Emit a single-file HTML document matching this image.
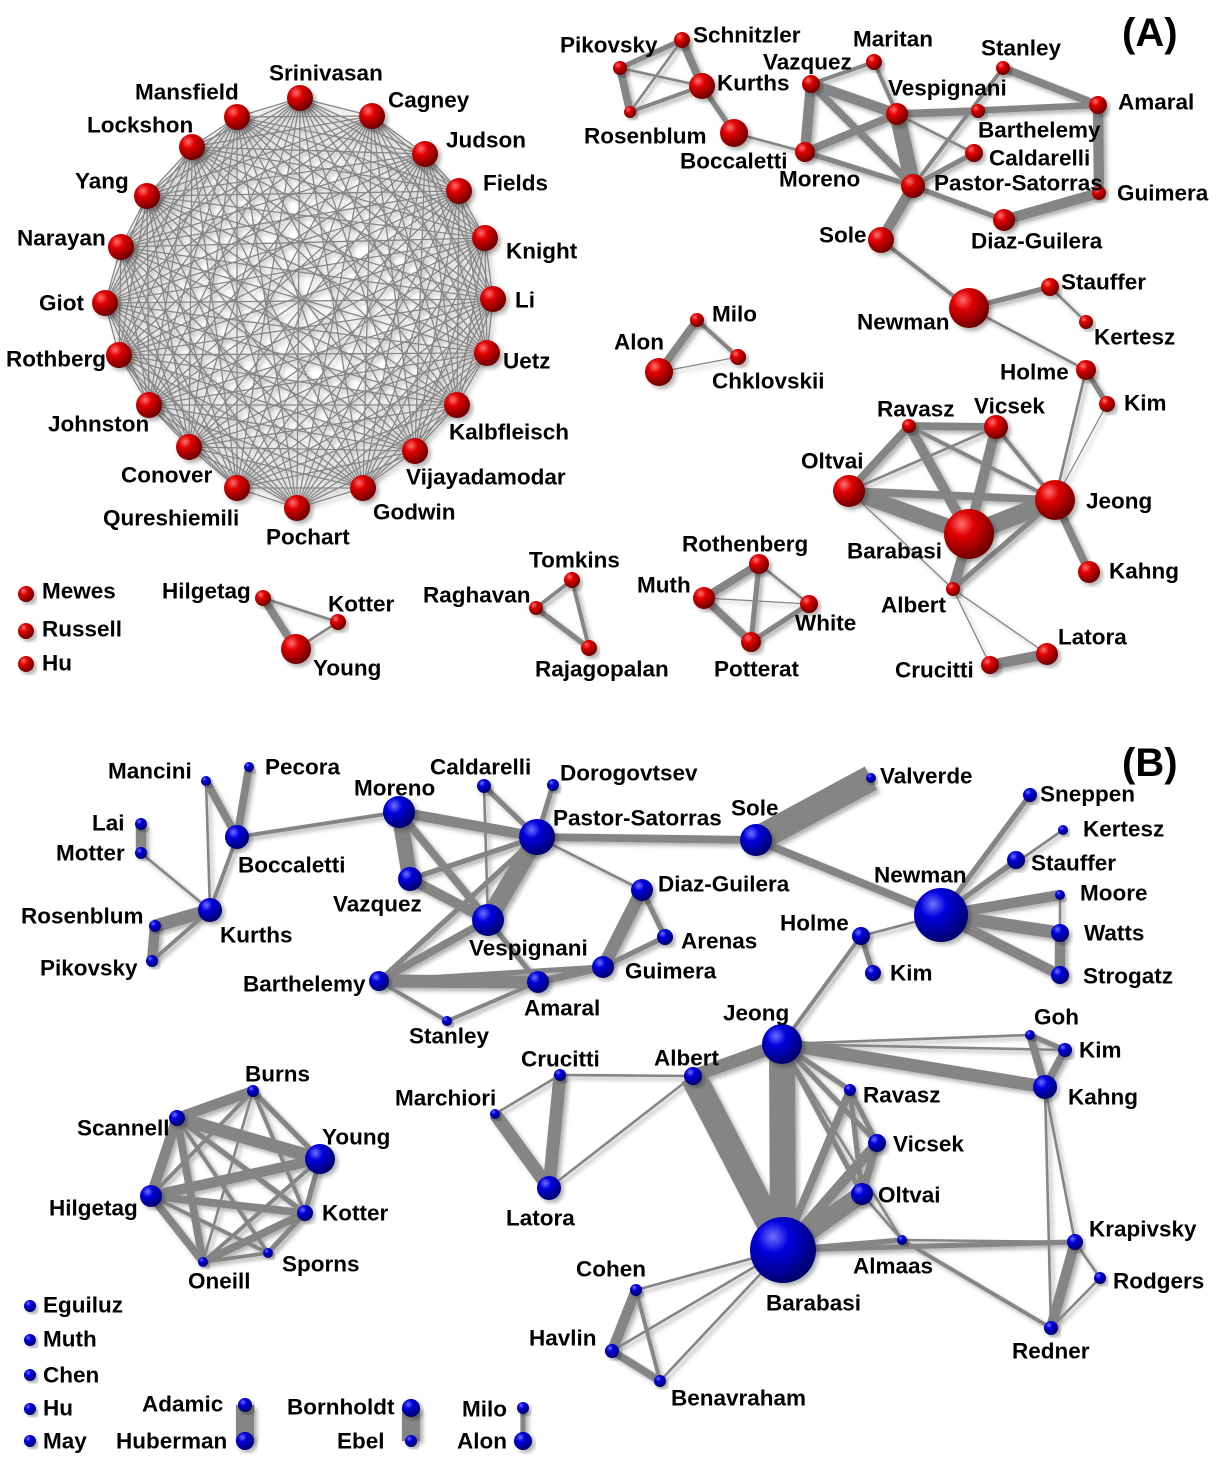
<!DOCTYPE html>
<html><head><meta charset="utf-8">
<style>
html,body{margin:0;padding:0;background:#fff;}
svg text{font-family:"Liberation Sans",Arial,sans-serif;font-weight:bold;font-size:22.5px;fill:#000;dominant-baseline:central;}
</style></head>
<body>
<svg id="s" width="1222" height="1469" viewBox="0 0 1222 1469" xmlns="http://www.w3.org/2000/svg">
<defs>
<radialGradient id="gr" cx="35%" cy="30%" r="70%">
<stop offset="0" stop-color="#ff7070"/><stop offset="0.35" stop-color="#e00000"/><stop offset="1" stop-color="#700000"/>
</radialGradient>
<radialGradient id="gb" cx="35%" cy="30%" r="70%">
<stop offset="0" stop-color="#7070ff"/><stop offset="0.35" stop-color="#0000dd"/><stop offset="1" stop-color="#000070"/>
</radialGradient>
<filter id="sh" x="-20%" y="-20%" width="140%" height="140%"><feDropShadow dx="3" dy="3" stdDeviation="2" flood-color="#000" flood-opacity="0.3"/></filter>
</defs>
<g id="edges" filter="url(#sh)"></g>
<g id="nodes"></g>
<g id="labels">
<text x="1122" y="33" style="font-size:40px">(A)</text>
<text x="1122" y="763" style="font-size:40px">(B)</text>
<text x="269" y="73">Srinivasan</text><text x="388" y="100">Cagney</text><text x="446" y="140">Judson</text>
<text x="483" y="183">Fields</text><text x="506" y="251">Knight</text><text x="515" y="300">Li</text>
<text x="503" y="361">Uetz</text><text x="449" y="432">Kalbfleisch</text><text x="406" y="477">Vijayadamodar</text>
<text x="373" y="512">Godwin</text><text x="266" y="537">Pochart</text><text x="103" y="518">Qureshiemili</text>
<text x="121" y="475">Conover</text><text x="48" y="424">Johnston</text><text x="6" y="359">Rothberg</text>
<text x="39" y="303">Giot</text><text x="17" y="238">Narayan</text><text x="75" y="181">Yang</text>
<text x="87" y="125">Lockshon</text><text x="135" y="92">Mansfield</text>
<text x="560" y="45">Pikovsky</text><text x="693" y="35">Schnitzler</text><text x="717" y="83">Kurths</text>
<text x="584" y="136">Rosenblum</text><text x="680" y="161">Boccaletti</text>
<text x="763" y="62">Vazquez</text><text x="853" y="39">Maritan</text><text x="888" y="88">Vespignani</text>
<text x="779" y="179">Moreno</text><text x="934" y="183">Pastor-Satorras</text><text x="981" y="48">Stanley</text>
<text x="1118" y="102">Amaral</text><text x="978" y="130">Barthelemy</text><text x="989" y="158">Caldarelli</text>
<text x="1117" y="193">Guimera</text><text x="971" y="241">Diaz-Guilera</text><text x="819" y="235">Sole</text>
<text x="857" y="322">Newman</text><text x="1061" y="282">Stauffer</text><text x="1094" y="337">Kertesz</text>
<text x="1000" y="372">Holme</text><text x="1124" y="403">Kim</text><text x="877" y="409">Ravasz</text>
<text x="974" y="406">Vicsek</text><text x="801" y="461">Oltvai</text><text x="1086" y="501">Jeong</text>
<text x="847" y="551">Barabasi</text><text x="1109" y="571">Kahng</text><text x="881" y="605">Albert</text>
<text x="895" y="670">Crucitti</text><text x="1058" y="637">Latora</text>
<text x="614" y="342">Alon</text><text x="712" y="314">Milo</text><text x="712" y="381">Chklovskii</text>
<text x="42" y="591">Mewes</text><text x="42" y="629">Russell</text><text x="42" y="663">Hu</text>
<text x="162" y="591">Hilgetag</text><text x="328" y="604">Kotter</text><text x="313" y="668">Young</text>
<text x="529" y="560">Tomkins</text><text x="423" y="595">Raghavan</text><text x="535" y="669">Rajagopalan</text>
<text x="682" y="544">Rothenberg</text><text x="637" y="585">Muth</text><text x="795" y="623">White</text><text x="714" y="669">Potterat</text>
<text x="108" y="771">Mancini</text><text x="265" y="767">Pecora</text><text x="92" y="823">Lai</text>
<text x="56" y="853">Motter</text><text x="238" y="865">Boccaletti</text><text x="220" y="935">Kurths</text>
<text x="21" y="916">Rosenblum</text><text x="40" y="968">Pikovsky</text>
<text x="354" y="788">Moreno</text><text x="430" y="767">Caldarelli</text><text x="560" y="773">Dorogovtsev</text>
<text x="553" y="818">Pastor-Satorras</text><text x="731" y="808">Sole</text><text x="880" y="776">Valverde</text>
<text x="333" y="904">Vazquez</text><text x="469" y="948">Vespignani</text><text x="658" y="884">Diaz-Guilera</text>
<text x="681" y="941">Arenas</text><text x="625" y="971">Guimera</text><text x="524" y="1008">Amaral</text>
<text x="243" y="984">Barthelemy</text><text x="409" y="1036">Stanley</text>
<text x="1040" y="794">Sneppen</text><text x="1083" y="829">Kertesz</text><text x="1031" y="863">Stauffer</text>
<text x="874" y="875">Newman</text><text x="1080" y="893">Moore</text><text x="1084" y="933">Watts</text>
<text x="1083" y="976">Strogatz</text><text x="780" y="923">Holme</text><text x="890" y="973">Kim</text>
<text x="723" y="1013">Jeong</text><text x="1034" y="1017">Goh</text><text x="1079" y="1050">Kim</text>
<text x="1068" y="1097">Kahng</text><text x="654" y="1058">Albert</text><text x="521" y="1059">Crucitti</text>
<text x="395" y="1098">Marchiori</text><text x="506" y="1218">Latora</text><text x="863" y="1095">Ravasz</text>
<text x="893" y="1144">Vicsek</text><text x="878" y="1195">Oltvai</text><text x="853" y="1266">Almaas</text>
<text x="766" y="1303">Barabasi</text><text x="1089" y="1229">Krapivsky</text><text x="1113" y="1281">Rodgers</text>
<text x="1012" y="1351">Redner</text><text x="576" y="1269">Cohen</text><text x="529" y="1338">Havlin</text>
<text x="671" y="1398">Benavraham</text>
<text x="245" y="1074">Burns</text><text x="77" y="1128">Scannell</text><text x="322" y="1137">Young</text>
<text x="49" y="1208">Hilgetag</text><text x="322" y="1213">Kotter</text><text x="282" y="1264">Sporns</text>
<text x="188" y="1281">Oneill</text>
<text x="43" y="1305">Eguiluz</text><text x="43" y="1339">Muth</text><text x="43" y="1375">Chen</text>
<text x="43" y="1408">Hu</text><text x="43" y="1441">May</text>
<text x="142" y="1404">Adamic</text><text x="116" y="1441">Huberman</text><text x="287" y="1407">Bornholdt</text>
<text x="337" y="1441">Ebel</text><text x="462" y="1409">Milo</text><text x="457" y="1441">Alon</text>
</g>
</svg>
<script>
var NS="http://www.w3.org/2000/svg";
var E=document.getElementById("edges"),N=document.getElementById("nodes");
function line(a,b,w){var l=document.createElementNS(NS,"line");l.setAttribute("x1",a[0]);l.setAttribute("y1",a[1]);l.setAttribute("x2",b[0]);l.setAttribute("y2",b[1]);l.setAttribute("stroke","#858585");l.setAttribute("stroke-width",w);E.appendChild(l);}
function node(p,r,g){var c=document.createElementNS(NS,"circle");c.setAttribute("cx",p[0]);c.setAttribute("cy",p[1]);c.setAttribute("r",r);c.setAttribute("fill","url(#"+g+")");c.setAttribute("filter","url(#sh)");N.appendChild(c);}
var C=[[300,98],[372,116],[425,154],[459,191],[485,238],[493,299],[487,353],[457,405],[415,451],[363,488],[297,508],[237,488],[189,447],[149,405],[119,355],[105,303],[121,247],[147,196],[192,147],[237,117]];
for(var i=0;i<C.length;i++)for(var j=i+1;j<C.length;j++)line(C[i],C[j],1.3);
C.forEach(function(p){node(p,13,"gr");});
var M=1.3;
var A={Pik:[620,68,7],Sch:[682,40,8],Kur:[702,86,13],Ros:[630,112,6],Boc:[734,133,14],Vaz:[811,84,9],Mar:[874,62,8],Ves:[897,114,11],Mor:[805,152,10],PS:[913,186,12],Sta:[1003,68,7],Ama:[1098,105,9],Bar:[978,111,7],Cal:[974,153,9],Gui:[1099,193,7],DG:[1004,220,11],Sol:[881,240,13],New:[969,308,20],Stf:[1050,287,9],Ker:[1086,322,7],Hol:[1086,370,10],Kim:[1107,404,8],Rav:[909,426,7],Vic:[996,427,12],Olt:[849,491,16],Jeo:[1055,500,20],Bb:[969,534,25],Kah:[1089,572,11],Alb:[953,589,7],Cru:[990,665,9],Lat:[1047,654,11],Alo:[659,372,14],Mil:[697,320,7],Chk:[738,357,8],Mew:[26,594,8],Rus:[26,631,8],Hu:[26,664,8],Hil:[263,598,8],Kot:[338,622,8],You:[296,649,15],Tom:[572,580,8],Rag:[536,608,7],Raj:[589,648,8],Rth:[759,564,10],Mut:[704,598,11],Whi:[809,604,9],Pot:[751,642,10]};
var AE=[["Pik","Sch",4],["Pik","Kur",2],["Pik","Ros",6],["Sch","Kur",6],["Sch","Ros",2],["Kur","Ros",3],["Kur","Boc",4],["Boc","Mor",2],["Vaz","Mar",3],["Vaz","Ves",8],["Vaz","Mor",8],["Vaz","PS",6],["Mor","Ves",6],["Mor","PS",4],["Ves","PS",12],["Mar","Ves",3],["Ves","Ama",5],["Ves","Bar",6],["Ves","Cal",2],["Sta","Ama",6],["Sta","PS",3],["Bar","Ama",4],["PS","Cal",4],["Ama","Gui",8],["Gui","DG",8],["DG","PS",4],["PS","Sol",8],["Sol","New",3],["New","Stf",4],["Stf","Ker",2],["New","Hol",2],["Hol","Kim",4],["Hol","Jeo",2],["Kim","Jeo",1],["Alo","Mil",6],["Alo","Chk",1],["Mil","Chk",3],["Rav","Vic",6],["Rav","Olt",6],["Rav","Bb",8],["Rav","Jeo",3],["Vic","Olt",2],["Vic","Bb",8],["Vic","Jeo",3],["Olt","Bb",12],["Olt","Jeo",6],["Jeo","Bb",14],["Jeo","Kah",6],["Jeo","Alb",4],["Bb","Alb",8],["Olt","Alb",1],["Alb","Cru",1],["Alb","Lat",1],["Cru","Lat",8],["Hil","Kot",2],["Hil","You",6],["Kot","You",2],["Tom","Rag",3],["Tom","Raj",3],["Rag","Raj",4],["Rth","Mut",6],["Rth","Whi",2],["Rth","Pot",4],["Mut","Pot",6],["Mut","Whi",1],["Whi","Pot",4]];
AE.forEach(function(e){line(A[e[0]],A[e[1]],e[2]*M);});
for(var k in A)node(A[k],A[k][2],"gr");
var B={Man:[206,781,5],Pec:[249,767,5],Lai:[141,824,6],Mot:[141,853,6],Boc:[237,837,12],Kur:[210,910,12],Ros:[155,926,6],Pik:[152,961,6],Mor:[399,812,16],Cal:[484,786,7],Dor:[553,785,6],PS:[537,837,18],Sol:[756,840,16],Val:[871,778,5],Vaz:[410,879,12],Ves:[488,920,16],DG:[642,890,11],Are:[665,937,8],Gui:[603,967,11],Ama:[538,982,11],Bar:[379,981,10],Sta:[447,1021,5],Sne:[1030,795,7],Ker:[1063,830,5],Stf:[1016,860,9],New:[941,915,27],Moo:[1060,895,5],Wat:[1060,933,9],Str:[1060,975,9],Hol:[861,936,9],Kim:[873,973,8],Jeo:[782,1044,20],Goh:[1030,1035,5],Ki2:[1065,1050,7],Kah:[1045,1087,12],Alb:[693,1076,9],Cru:[560,1075,6],Mar:[495,1114,5],Lat:[549,1188,12],Rav:[850,1090,6],Vic:[877,1143,9],Olt:[862,1194,11],Alm:[902,1240,5],Bb:[783,1250,33],Kra:[1075,1242,8],Rod:[1100,1278,6],Red:[1051,1328,7],Coh:[636,1290,6],Hav:[612,1351,7],Ben:[660,1381,6],Bur:[253,1091,6],Sca:[177,1118,8],You:[320,1159,15],Hil:[151,1196,11],Kot:[305,1213,8],Spo:[268,1253,5],One:[203,1262,5],Egu:[30,1306,6],Mut:[30,1340,6],Che:[30,1375,6],Hu:[30,1409,6],May:[30,1441,6],Ada:[245,1405,7],Hub:[245,1441,9],Bor:[411,1408,9],Ebe:[411,1441,6],Mil:[523,1408,6],Alo:[523,1441,9]};
var BE=[["Man","Boc",6],["Pec","Boc",6],["Man","Kur",2],["Boc","Kur",3],["Lai","Mot",8],["Mot","Kur",2],["Kur","Ros",10],["Ros","Pik",8],["Kur","Pik",3],["Boc","Mor",3],["Mor","Vaz",12],["Mor","PS",8],["Mor","Ves",6],["Vaz","Ves",8],["Vaz","PS",4],["Cal","PS",4],["Cal","Ves",2],["Dor","PS",4],["PS","Ves",14],["PS","Sol",6],["Sol","Val",20],["Sol","New",6],["PS","DG",2],["PS","Bar",4],["Ves","Bar",6],["Ves","Ama",4],["Bar","Ama",10],["Bar","Gui",4],["Bar","Sta",3],["Sta","Ama",3],["Ama","Gui",6],["Gui","DG",10],["Gui","Are",4],["DG","Are",4],["New","Sne",4],["New","Ker",2],["New","Stf",4],["New","Moo",8],["New","Wat",10],["New","Str",8],["Wat","Str",8],["Moo","Wat",2],["New","Hol",2],["Hol","Kim",4],["Hol","Jeo",3],["Jeo","Goh",2],["Jeo","Ki2",2],["Jeo","Kah",10],["Goh","Ki2",4],["Goh","Kah",6],["Ki2","Kah",6],["Jeo","Alb",10],["Jeo","Bb",20],["Jeo","Rav",4],["Jeo","Vic",4],["Jeo","Olt",4],["Jeo","Alm",2],["Alb","Bb",20],["Alb","Cru",2],["Alb","Lat",2],["Cru","Lat",10],["Mar","Lat",10],["Mar","Cru",2],["Bb","Olt",14],["Bb","Vic",8],["Bb","Rav",6],["Rav","Vic",4],["Vic","Olt",6],["Rav","Olt",4],["Olt","Alm",2],["Bb","Alm",4],["Alm","Kra",2],["Bb","Kra",4],["Alm","Red",3],["Kah","Kra",2],["Kah","Red",2],["Kra","Red",8],["Kra","Rod",2],["Rod","Red",2],["Bb","Coh",2],["Bb","Hav",2],["Bb","Ben",2],["Coh","Hav",8],["Coh","Ben",3],["Hav","Ben",6],["Bur","Sca",8],["Bur","You",4],["Bur","Hil",3],["Bur","Kot",3],["Bur","One",2],["Sca","You",10],["Sca","Hil",8],["Sca","Kot",4],["Sca","Spo",3],["Sca","One",6],["Hil","You",8],["Hil","Kot",6],["Hil","Spo",3],["Hil","One",6],["You","Kot",4],["You","One",3],["Kot","Spo",4],["Kot","One",6],["Spo","One",3],["Ada","Hub",14],["Bor","Ebe",14],["Mil","Alo",4]];
BE.forEach(function(e){line(B[e[0]],B[e[1]],e[2]*M);});
for(var k in B)node(B[k],B[k][2],"gb");
</script>
</body></html>
